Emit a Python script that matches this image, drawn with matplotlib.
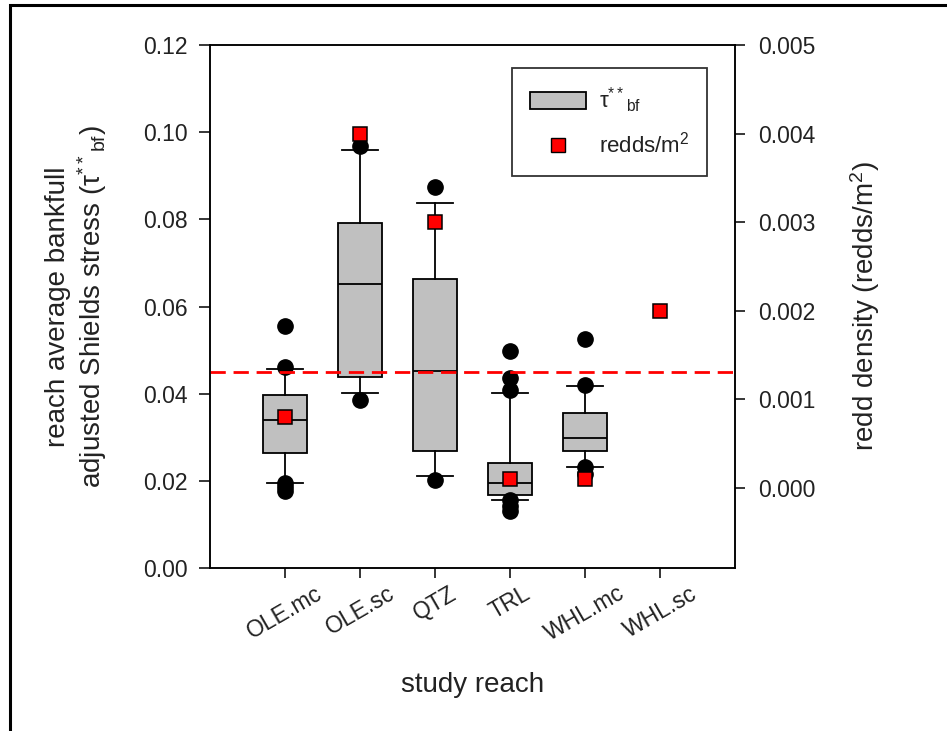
import numpy as np
import matplotlib
matplotlib.use('Agg')
import matplotlib.pyplot as plt
from matplotlib.patches import Patch, Rectangle
from matplotlib.lines import Line2D

plt.rcParams['font.family'] = ['Liberation Sans', 'DejaVu Sans']
plt.rcParams['mathtext.fontset'] = 'custom'
plt.rcParams['mathtext.rm'] = 'Liberation Sans'
plt.rcParams['mathtext.it'] = 'Liberation Sans'
plt.rcParams['mathtext.default'] = 'regular'

# study reaches
reaches = ['OLE.mc', 'OLE.sc', 'QTZ', 'TRL', 'WHL.mc', 'WHL.sc']

# box stats for tau**_bf (no box for WHL.sc)
whislo = [0.0194, 0.0402, 0.0210, 0.0155, 0.0231]
q1 = [0.0264, 0.0438, 0.0268, 0.0167, 0.0268]
med = [0.0339, 0.0651, 0.0451, 0.0196, 0.0298]
q3 = [0.0398, 0.0792, 0.0664, 0.0242, 0.0355]
whishi = [0.0456, 0.0959, 0.0838, 0.0402, 0.0418]
fliers = [
    [0.0555, 0.0461, 0.0196, 0.0185, 0.0177],
    [0.0969, 0.0385],
    [0.0874, 0.0202],
    [0.0498, 0.0437, 0.0408, 0.0155, 0.0143, 0.0131],
    [0.0525, 0.0420, 0.0231, 0.0216],
]

# redd density per reach
redds = [0.0008, 0.0040, 0.0030, 0.0001, 0.0001, 0.0020]

threshold = 0.045

fig = plt.figure(figsize=(9.47, 7.31), dpi=100)
ax = fig.add_axes([210/947, 1-568/731, 525/947, 523/731])

stats = []
for i in range(len(med)):
    stats.append(dict(whislo=whislo[i], q1=q1[i], med=med[i], q3=q3[i],
                      whishi=whishi[i], fliers=fliers[i]))

pos = np.arange(1, len(reaches) + 1)
lw = 1.3
ax.bxp(stats, positions=pos[:len(stats)], widths=0.59, patch_artist=True,
       showfliers=True,
       boxprops=dict(facecolor='#c0c0c0', edgecolor='black', linewidth=lw),
       medianprops=dict(color='black', linewidth=lw),
       whiskerprops=dict(color='black', linewidth=lw),
       capprops=dict(color='black', linewidth=lw),
       capwidths=0.47,
       flierprops=dict(marker='o', markerfacecolor='black', markeredgecolor='black',
                       markersize=11))

ax.axhline(threshold, color='red', linewidth=2, dashes=(5.5, 2.8), zorder=5)

ax.set_xlim(0, 7)
ax.set_ylim(0, 0.12)
ax.set_yticks(np.arange(0, 0.121, 0.02))
ax.set_yticklabels([f'{v:.2f}' for v in np.arange(0, 0.121, 0.02)])
ax.set_xticks(pos)
ax.set_xticklabels(reaches, rotation=30, ha='center')
ax.tick_params(axis='both', direction='out', length=8, width=1.1, labelsize=16.5,
               pad=8, labelcolor='#222222')
ax.tick_params(axis='x', length=7, pad=3)
for s in ax.spines.values():
    s.set_linewidth(1.1)

ax.set_ylabel('reach average bankfull\nadjusted Shields stress ($\\tau^{**}{}_{bf}$)',
              fontsize=20, linespacing=1.15, color='#222222')
ax.yaxis.set_label_coords(-0.193, 0.5)
ax.set_xlabel('study reach', fontsize=20, color='#222222')
ax.xaxis.set_label_coords(0.5, -0.199)

ax2 = ax.twinx()
ax2.plot(pos, redds, linestyle='none', marker='s', markersize=10.5,
         markerfacecolor='red', markeredgecolor='black', markeredgewidth=1.1)
ax2.set_ylim(-0.000907, 0.005)
ax2.set_yticks(np.arange(0, 0.0051, 0.001))
ax2.set_yticklabels([f'{v:.3f}' for v in np.arange(0, 0.0051, 0.001)])
ax2.tick_params(axis='y', direction='out', length=7, width=1.1, labelsize=16.5,
                pad=10, labelcolor='#222222')
for s in ax2.spines.values():
    s.set_linewidth(1.1)
ax2.set_ylabel('redd density (redds/m$^2$)', fontsize=20, color='#222222')
ax2.yaxis.set_label_coords(1.215, 0.5)

handles = [Patch(facecolor='#c0c0c0', edgecolor='black', linewidth=1.3),
           Line2D([], [], linestyle='none', marker='s', markersize=10.5,
                  markerfacecolor='red', markeredgecolor='black')]
leg = ax2.legend(handles, ['$\\tau^{**}{}_{bf}$', 'redds/m$^2$'],
                 loc='upper right', bbox_to_anchor=(0.947, 0.956),
                 borderaxespad=0,
                 fontsize=16, frameon=True, fancybox=False, edgecolor='black',
                 handlelength=2.5, handleheight=0.8, handletextpad=0.6,
                 borderpad=0.8, labelspacing=0.75)
leg.get_frame().set_linewidth(1.3)
for t in leg.get_texts():
    t.set_color('#222222')

# outer border of the figure
fig.patches.append(Rectangle((10/947, -0.1), 1.2, 0.1 + (731-5)/731,
                             transform=fig.transFigure, fill=False,
                             edgecolor='black', linewidth=2.2))

fig.savefig('out.png', dpi=100)
